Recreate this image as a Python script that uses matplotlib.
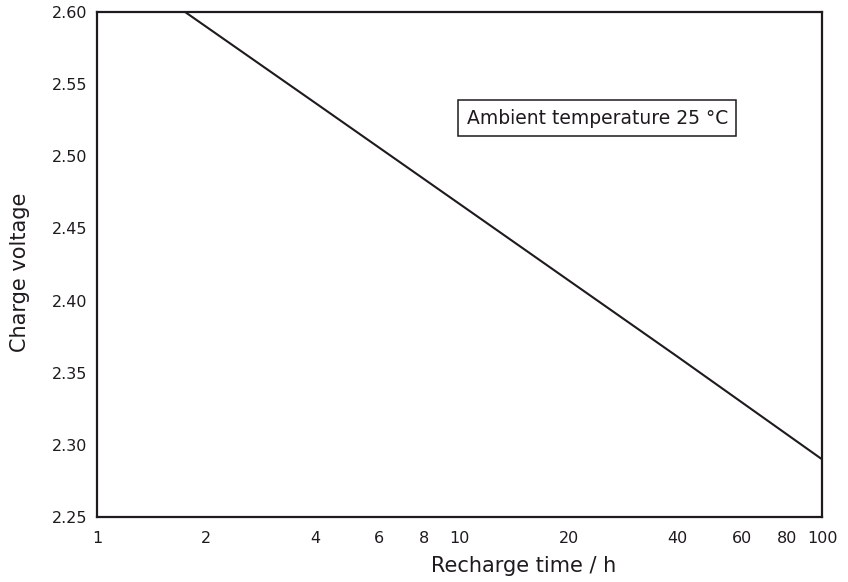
import matplotlib
matplotlib.use("Agg")
import matplotlib.pyplot as plt
from matplotlib.ticker import FixedLocator, FixedFormatter, NullLocator

# Datos (tiempo de recarga en h, tension de carga en V)
recharge_time = [1.75, 4, 10, 40, 100]
charge_voltage = [2.60, 2.537, 2.467, 2.361, 2.29]

x_ticks = [1, 2, 4, 6, 8, 10, 20, 40, 60, 80, 100]
x_labels = ["1", "2", "4", "6", "8", "10", "20", "40", "60", "80", "100"]
y_ticks = [2.25, 2.30, 2.35, 2.40, 2.45, 2.50, 2.55, 2.60]
y_labels = ["2.25", "2.30", "2.35", "2.40", "2.45", "2.50", "2.55", "2.60"]

plt.rcParams["font.family"] = ["DejaVu Sans"]
ink = "#1e1a1e"

fig = plt.figure(figsize=(8.48, 5.82), dpi=100)
ax = fig.add_axes([97 / 848, 1 - 517 / 582, 725 / 848, 505 / 582])

ax.plot(recharge_time, charge_voltage, color=ink, lw=1.5)

ax.set_xscale("log")
ax.set_xlim(1, 100)
ax.set_ylim(2.25, 2.60)
ax.xaxis.set_major_locator(FixedLocator(x_ticks))
ax.xaxis.set_major_formatter(FixedFormatter(x_labels))
ax.xaxis.set_minor_locator(NullLocator())
ax.set_yticks(y_ticks)
ax.set_yticklabels(y_labels)
ax.tick_params(length=0, labelsize=11.5, colors=ink)
ax.tick_params(axis="x", pad=10)
ax.tick_params(axis="y", pad=7)

for s in ax.spines.values():
    s.set_linewidth(1.6)
    s.set_color(ink)

ax.set_xlabel("Recharge time / h", fontsize=15, color=ink)
ax.set_ylabel("Charge voltage", fontsize=15, color=ink)
# etiqueta x algo desplazada a la derecha, como en el original
ax.xaxis.set_label_coords(0.589, -0.078)
ax.yaxis.set_label_coords(-0.092, 0.485)

ax.text(0.690, 0.79, "Ambient temperature 25 °C", transform=ax.transAxes,
        ha="center", va="center", fontsize=13.5, color=ink,
        bbox=dict(boxstyle="square,pad=0.45", fc="white", ec=ink, lw=1.1))

fig.savefig("out.png", dpi=100)
